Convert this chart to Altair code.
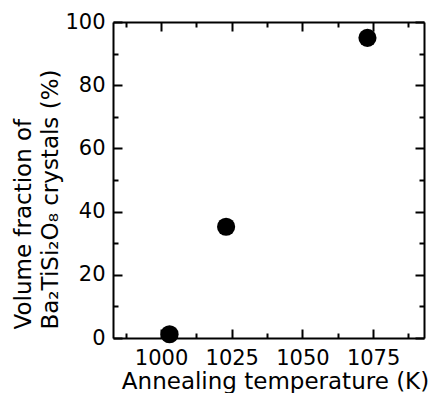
import altair as alt
import pandas as pd

# data
temps = [1003, 1023, 1073]
fractions = [1.2, 35.2, 95.0]

x_major = [1000, 1025, 1050, 1075]
x_minor = [987.5, 1012.5, 1037.5, 1062.5, 1087.5]
y_major = [0, 20, 40, 60, 80, 100]
y_minor = [10, 30, 50, 70, 90]
x_domain = [983, 1093]
y_domain = [0, 100]

x_title = "Annealing temperature (K)"
y_title = ["Volume fraction of", "Ba\u2082TiSi\u2082O\u2088 crystals (%)"]

df = pd.DataFrame({"T": temps, "V": fractions})
FONT = "DejaVu Sans"

PLOT_W = 311
PLOT_H = 316


def xs():
    return alt.Scale(domain=x_domain, nice=False, zero=False)


def ys():
    return alt.Scale(domain=y_domain, nice=False, zero=False)


common = dict(
    domainColor="black",
    domainWidth=2,
    tickColor="black",
    tickWidth=2,
    grid=False,
    labelFont=FONT,
    titleFont=FONT,
    labelColor="black",
    titleColor="black",
)


def tick_axis(orient, values, size, domain):
    return alt.Axis(
        orient=orient,
        values=values,
        tickSize={"expr": str(-size)},
        labels=False,
        title=None,
        domain=domain,
        **common,
    )


def layer(x_axis, y_axis, opacity):
    return alt.Chart(df).mark_circle(size=330, color="black", opacity=opacity).encode(
        x=alt.X("T:Q", scale=xs(), axis=x_axis),
        y=alt.Y("V:Q", scale=ys(), axis=y_axis),
    )


main_x = alt.Axis(
    orient="bottom",
    values=x_major,
    tickSize={"expr": "-9"},
    format="d",
    labelFontSize=21,
    labelPadding=18,
    title=x_title,
    titleFontSize=23,
    titleFontWeight="normal",
    titleX=162,
    titleY=50,
    titleAlign="center",
    titleBaseline="alphabetic",
    **common,
)
main_y = alt.Axis(
    orient="left",
    values=y_major,
    tickSize={"expr": "-9"},
    format="d",
    labelFontSize=21,
    labelPadding=17,
    title=y_title,
    titleFontSize=23,
    titleFontWeight="normal",
    titleLineHeight=27,
    titleAngle=270,
    titleAlign="left",
    titleBaseline="alphabetic",
    titleX=-83,
    titleY=PLOT_H - 9,
    **common,
)

l1 = layer(main_x, main_y, 1)
l2 = layer(tick_axis("bottom", x_minor, 5, False), tick_axis("left", y_minor, 5, False), 0)
l3 = layer(tick_axis("top", x_major, 9, True), tick_axis("right", y_major, 9, True), 0)
l4 = layer(tick_axis("top", x_minor, 5, False), tick_axis("right", y_minor, 5, False), 0)

chart = (
    alt.layer(l2, l3, l4, l1)
    .resolve_scale(x="independent", y="independent")
    .properties(
        width=PLOT_W,
        height=PLOT_H,
        autosize=alt.AutoSizeParams(type="none"),
        padding={"left": 105, "top": 14, "right": 5, "bottom": 55},
    )
    .configure_view(stroke=None)
)

chart.save("out.html", embed_options={"renderer": "svg", "actions": False})
